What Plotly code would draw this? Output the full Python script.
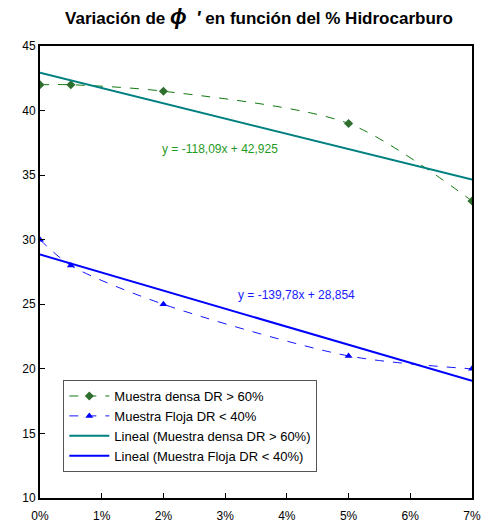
import plotly.graph_objects as go

# Hydrocarbon content (fraction) and friction angle phi' for each sample
hidrocarburo = [0.0, 0.005, 0.02, 0.05, 0.07]
phi_densa = [42, 42, 41.5, 39, 33]
phi_floja = [30, 28, 25, 21, 20]

# Linear fits reported on the chart
pend_densa, orig_densa = -118.09, 42.925
pend_floja, orig_floja = -139.78, 28.854
x_ajuste = [0.0, 0.07]

x_ticks = [0, 0.01, 0.02, 0.03, 0.04, 0.05, 0.06, 0.07]
x_tick_text = ["0%", "1%", "2%", "3%", "4%", "5%", "6%", "7%"]
y_ticks = [10, 15, 20, 25, 30, 35, 40, 45]

FONT = "Liberation Sans, Arial, sans-serif"

fig = go.Figure()
fig.add_trace(go.Scatter(
    x=hidrocarburo, y=phi_densa, name="Muestra densa DR > 60%",
    mode="lines+markers",
    line=dict(color="#127a12", width=1, dash="dash", shape="spline", smoothing=0.8),
    marker=dict(symbol="diamond", size=7, color="#2e6e2e"),
))
fig.add_trace(go.Scatter(
    x=hidrocarburo, y=phi_floja, name="Muestra Floja DR < 40%",
    mode="lines+markers",
    line=dict(color="#1414ff", width=1, dash="dash", shape="spline", smoothing=0.8),
    marker=dict(symbol="triangle-up", size=7, color="#0000ff"),
))
fig.add_trace(go.Scatter(
    x=x_ajuste, y=[pend_densa * v + orig_densa for v in x_ajuste],
    name="Lineal (Muestra densa DR > 60%)", mode="lines",
    line=dict(color="#008080", width=2),
))
fig.add_trace(go.Scatter(
    x=x_ajuste, y=[pend_floja * v + orig_floja for v in x_ajuste],
    name="Lineal (Muestra Floja DR < 40%)", mode="lines",
    line=dict(color="#0000ff", width=2),
))

fig.add_annotation(x=0.0291, y=37.02, text="y = -118,09x + 42,925", showarrow=False,
                   font=dict(family=FONT, size=12, color="#1f9a1f"))
fig.add_annotation(x=0.04156, y=25.72, text="y = -139,78x + 28,854", showarrow=False,
                   font=dict(family=FONT, size=12, color="#1a1aff"))

fig.update_layout(
    width=484, height=524,
    margin=dict(l=40, r=12, t=46, b=26, autoexpand=False),
    paper_bgcolor="white", plot_bgcolor="white",
    font=dict(family=FONT, size=12, color="black"),
    title=dict(
        text=("<b>Variación de <span style='font-size:22px'><i>ϕ</i></span>"
              "&nbsp; <span style='font-size:19px'><i>'</i></span> en función del % Hidrocarburo</b>"),
        x=0.535, xanchor="center", y=0.965, yanchor="middle",
        font=dict(family=FONT, size=17, color="black"),
    ),
    legend=dict(
        x=0.054, y=0.261, xanchor="left", yanchor="top",
        bgcolor="white", bordercolor="#555555", borderwidth=1,
        font=dict(family=FONT, size=13, color="black"),
        tracegroupgap=2, itemwidth=40,
    ),
    showlegend=True,
)
fig.update_xaxes(
    range=[0, 0.07], tickvals=x_ticks, ticktext=x_tick_text,
    showgrid=False, zeroline=False, automargin=False,
    showline=True, linecolor="black", linewidth=2, mirror=True,
    ticks="inside", ticklen=5, tickcolor="black", tickwidth=1,
    ticklabelstandoff=6,
)
fig.update_yaxes(
    range=[10, 45], tickvals=y_ticks,
    showgrid=False, zeroline=False, automargin=False,
    showline=True, linecolor="black", linewidth=2, mirror=True,
    ticks="inside", ticklen=5, tickcolor="black", tickwidth=1,
)

fig.write_html("out.html")
